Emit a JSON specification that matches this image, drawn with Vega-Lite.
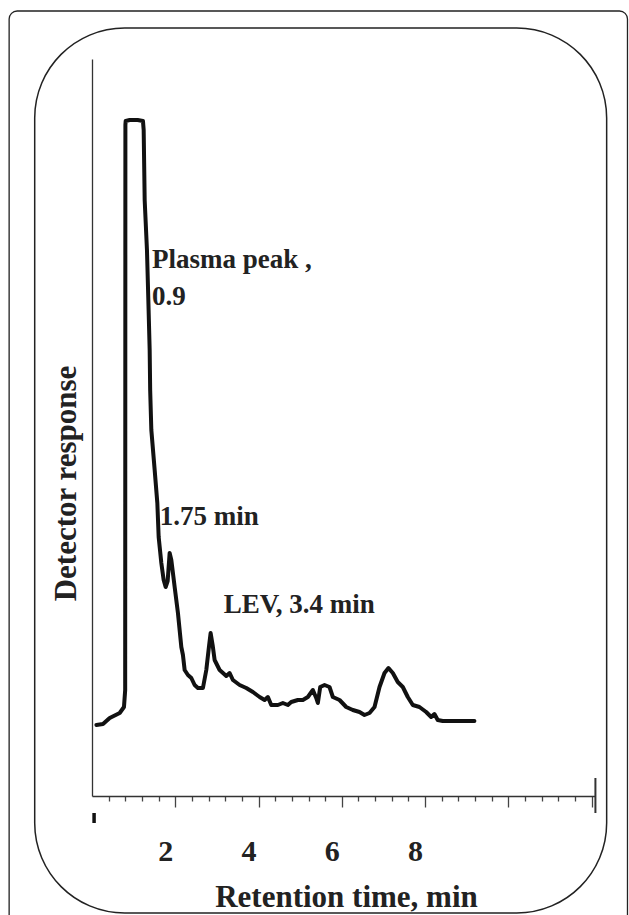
{
  "$schema": "https://vega.github.io/schema/vega-lite/v6.json",
  "width": 503,
  "height": 737,
  "autosize": {"type": "none"},
  "padding": {"left": 92, "top": 59, "right": 34, "bottom": 119},
  "background": "white",
  "config": {"view": {"stroke": null}},
  "datasets": {
    "trace": [
      {"t": 0.106, "r": 71}, {"t": 0.264, "r": 72}, {"t": 0.425, "r": 78}, {"t": 0.665, "r": 83},
      {"t": 0.768, "r": 89}, {"t": 0.797, "r": 106}, {"t": 0.802, "r": 671}, {"t": 0.809, "r": 675},
      {"t": 0.905, "r": 676}, {"t": 1.097, "r": 676}, {"t": 1.224, "r": 675}, {"t": 1.241, "r": 666},
      {"t": 1.265, "r": 596}, {"t": 1.32, "r": 546}, {"t": 1.353, "r": 496}, {"t": 1.385, "r": 446},
      {"t": 1.397, "r": 406}, {"t": 1.425, "r": 366}, {"t": 1.505, "r": 326}, {"t": 1.569, "r": 293},
      {"t": 1.601, "r": 259}, {"t": 1.665, "r": 233}, {"t": 1.721, "r": 216}, {"t": 1.769, "r": 209},
      {"t": 1.817, "r": 215}, {"t": 1.865, "r": 243}, {"t": 1.905, "r": 236}, {"t": 1.985, "r": 209},
      {"t": 2.064, "r": 183}, {"t": 2.145, "r": 149}, {"t": 2.184, "r": 141}, {"t": 2.225, "r": 126},
      {"t": 2.304, "r": 121}, {"t": 2.385, "r": 118}, {"t": 2.465, "r": 111}, {"t": 2.544, "r": 108},
      {"t": 2.664, "r": 108}, {"t": 2.745, "r": 126}, {"t": 2.808, "r": 149}, {"t": 2.849, "r": 163},
      {"t": 2.897, "r": 151}, {"t": 2.945, "r": 136}, {"t": 3.065, "r": 126}, {"t": 3.225, "r": 120},
      {"t": 3.305, "r": 123}, {"t": 3.384, "r": 116}, {"t": 3.545, "r": 111}, {"t": 3.705, "r": 108},
      {"t": 3.864, "r": 104}, {"t": 4.025, "r": 99}, {"t": 4.145, "r": 96}, {"t": 4.224, "r": 99},
      {"t": 4.305, "r": 91}, {"t": 4.464, "r": 91}, {"t": 4.584, "r": 93}, {"t": 4.704, "r": 91},
      {"t": 4.785, "r": 94}, {"t": 4.944, "r": 96}, {"t": 5.064, "r": 96}, {"t": 5.184, "r": 99},
      {"t": 5.304, "r": 106}, {"t": 5.385, "r": 98}, {"t": 5.424, "r": 93}, {"t": 5.481, "r": 109},
      {"t": 5.585, "r": 111}, {"t": 5.704, "r": 109}, {"t": 5.784, "r": 99}, {"t": 5.945, "r": 96},
      {"t": 6.105, "r": 89}, {"t": 6.264, "r": 86}, {"t": 6.424, "r": 84}, {"t": 6.544, "r": 81},
      {"t": 6.665, "r": 83}, {"t": 6.785, "r": 89}, {"t": 6.905, "r": 109}, {"t": 7.025, "r": 123},
      {"t": 7.12, "r": 128}, {"t": 7.224, "r": 123}, {"t": 7.343, "r": 114}, {"t": 7.464, "r": 109},
      {"t": 7.584, "r": 99}, {"t": 7.704, "r": 91}, {"t": 7.864, "r": 89}, {"t": 8.025, "r": 84},
      {"t": 8.145, "r": 79}, {"t": 8.224, "r": 82}, {"t": 8.303, "r": 76}, {"t": 8.423, "r": 75},
      {"t": 9.184, "r": 75}
    ],
    "notes": [
      {"t": 1.441, "r": 527.7, "label": "Plasma peak ,"},
      {"t": 1.441, "r": 491, "label": "0.9"},
      {"t": 1.626, "r": 271, "label": "1.75 min"},
      {"t": 3.163, "r": 182.7, "label": "LEV, 3.4 min"}
    ]
  },
  "layer": [
    {
      "data": {"values": [{}]},
      "mark": {"type": "rect", "filled": false, "stroke": "#222", "strokeWidth": 1.3, "cornerRadius": 8},
      "encoding": {
        "x": {"datum": -1.99, "type": "quantitative", "scale": {"domain": [0, 12.08], "nice": false, "zero": false}},
        "x2": {"datum": 12.86},
        "y": {"datum": 785, "type": "quantitative", "scale": {"domain": [0, 737], "nice": false, "zero": false}},
        "y2": {"datum": -140}
      }
    },
    {
      "data": {"values": [{}]},
      "mark": {"type": "rect", "filled": false, "stroke": "#222", "strokeWidth": 1.5, "cornerRadius": 90},
      "encoding": {
        "x": {"datum": -1.376, "type": "quantitative"},
        "x2": {"datum": 12.36},
        "y": {"datum": 768, "type": "quantitative"},
        "y2": {"datum": -117}
      }
    },
    {
      "data": {"values": [{}]},
      "mark": {"type": "rule", "stroke": "#333", "strokeWidth": 2},
      "encoding": {
        "x": {"datum": 12.09, "type": "quantitative"},
        "y": {"datum": 18, "type": "quantitative"},
        "y2": {"datum": -17}
      }
    },
    {
      "data": {"values": [{}]},
      "mark": {"type": "rule", "stroke": "#111", "strokeWidth": 3.5},
      "encoding": {
        "x": {"datum": 0.05, "type": "quantitative"},
        "y": {"datum": -17, "type": "quantitative"},
        "y2": {"datum": -27}
      }
    },
    {
      "data": {"name": "trace"},
      "mark": {"type": "line", "color": "#111", "strokeWidth": 4, "strokeJoin": "round", "strokeCap": "round"},
      "encoding": {
        "x": {
          "field": "t", "type": "quantitative",
          "scale": {"domain": [0, 12.08], "nice": false, "zero": false},
          "axis": {
            "title": "Retention time, min",
            "titleFont": "Liberation Serif", "titleFontWeight": "bold", "titleFontSize": 31, "titleColor": "#222",
            "titleX": 254, "titleY": 110.7, "titleBaseline": "alphabetic", "titleAlign": "center", "titleAnchor": null,
            "values": [0.4, 0.8, 1.2, 1.6, 2, 2.4, 2.8, 3.2, 3.6, 4, 4.4, 4.8, 5.2, 5.6, 6, 6.4, 6.8, 7.2, 7.6, 8, 8.4, 8.8, 9.2, 9.6, 10, 10.4, 10.8, 11.2, 11.6, 12],
            "tickCount": 100,
            "tickSize": {"condition": {"test": "abs(datum.value - round(datum.value / 2) * 2) < 0.01", "value": 11}, "value": 5},
            "tickColor": "#444", "tickWidth": 1.3,
            "domainColor": "#333", "domainWidth": 1.6,
            "grid": false,
            "labelExpr": "indexof([2, 4, 6, 8], datum.value) >= 0 ? datum.value : ''",
            "labelFont": "Liberation Serif", "labelFontWeight": "bold", "labelFontSize": 30, "labelColor": "#222",
            "labelBaseline": "alphabetic", "labelOffset": -10, "labelPadding": 53,
            "labelOverlap": false, "labelFlush": false, "labelBound": false
          }
        },
        "y": {
          "field": "r", "type": "quantitative",
          "scale": {"domain": [0, 737], "nice": false, "zero": false},
          "axis": {
            "title": "Detector response",
            "titleFont": "Liberation Serif", "titleFontWeight": "bold", "titleFontSize": 31, "titleColor": "#222",
            "titleX": -17, "titleY": 424, "titleBaseline": "alphabetic", "titleAlign": "center", "titleAngle": -90, "titleAnchor": null,
            "ticks": false, "labels": false, "grid": false,
            "domainColor": "#333", "domainWidth": 1.3
          }
        }
      }
    },
    {
      "data": {"name": "notes"},
      "mark": {"type": "text", "font": "Liberation Serif", "fontWeight": "bold", "fontSize": 27, "color": "#222", "align": "left", "baseline": "alphabetic"},
      "encoding": {
        "x": {"field": "t", "type": "quantitative"},
        "y": {"field": "r", "type": "quantitative"},
        "text": {"field": "label"}
      }
    }
  ]
}
